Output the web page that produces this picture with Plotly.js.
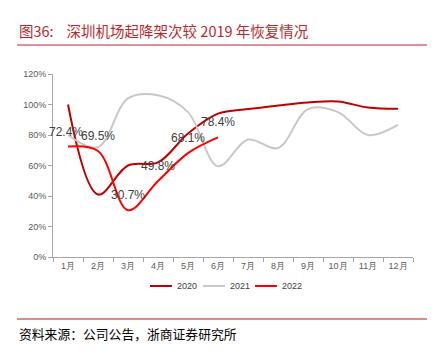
<!DOCTYPE html>
<html><head><meta charset="utf-8">
<script src="https://cdn.plot.ly/plotly-3.0.1.min.js"></script>
<style>html,body{margin:0;padding:0;background:#fff}#c{width:442px;height:355px}</style>
</head><body><div id="c"></div>
<script>
const months = ['1月','2月','3月','4月','5月','6月','7月','8月','9月','10月','11月','12月'];
const y2020 = [1.00, 0.41, 0.60, 0.62, 0.81, 0.94, 0.97, 0.993, 1.013, 1.02, 0.98, 0.972];
const y2021 = [0.80, 0.72, 1.04, 1.06, 0.95, 0.595, 0.77, 0.715, 0.97, 0.95, 0.80, 0.866];
const y2022 = [0.724, 0.695, 0.307, 0.498, 0.681, 0.784];
const labels2022 = ['72.4%','69.5%','30.7%','49.8%','68.1%','78.4%'];
const seriesNames = ['2020','2021','2022'];
const seriesColors = ['#c00000','#c8c8c8','#ff0000'];

const L=53, R=29, T=74, B=98, W=442, H=355;
const pw=W-L-R, ph=H-T-B;
const px = x => (x-L)/pw;
const py = y => (H-B-y)/ph;
const red = '#c0272d';
const FONT = 'Noto Sans CJK SC, Liberation Sans, Arial, sans-serif';

const series = [y2020, y2021, y2022];
const traces = series.map((ys, k) => ({
  x: months.slice(0, ys.length), y: ys, name: seriesNames[k], type:'scatter', mode:'lines',
  line:{color: seriesColors[k], width:2, shape:'spline', smoothing:1}, showlegend:false
}));

const dataLabels = y2022.map((v, i) => ({
  xref:'x', yref:'y', x: months[i], y: v, text: labels2022[i], showarrow:false,
  xanchor:'center', yanchor:'middle', yshift:15, xshift: i===0 ? -2 : 0,
  font:{family:'Liberation Sans, Arial, sans-serif', size:12, color:'#404040'}
}));

// manual legend
const legX = [150, 203, 255];
const legendShapes = seriesNames.map((n, k) => ({
  type:'line', xref:'paper', yref:'paper', x0:px(legX[k]), x1:px(legX[k]+22), y0:py(286), y1:py(286),
  line:{color: seriesColors[k], width:2}
}));
const legendTexts = seriesNames.map((n, k) => ({
  xref:'paper', yref:'paper', x:px(legX[k]+25), y:py(286), xanchor:'left', yanchor:'middle',
  showarrow:false, text:n, font:{family:'Liberation Sans, Arial, sans-serif', size:9, color:'#404040'}
}));

const layout = {
  width: W, height: H,
  margin:{l:L, r:R, t:T, b:B, pad:0},
  paper_bgcolor:'#fff', plot_bgcolor:'#fff',
  font:{family:'Liberation Sans, Arial, sans-serif', size:9, color:'#595959'},
  showlegend:false,
  xaxis:{type:'category', range:[-0.5, 11.5], showline:true, linecolor:'#a6a6a6', linewidth:1,
         ticks:'outside', ticklen:4, tickcolor:'#a6a6a6', tickson:'boundaries', showgrid:false,
         zeroline:false, tickfont:{size:9, color:'#595959'}, fixedrange:true},
  yaxis:{range:[0, 1.2], dtick:0.2, tickformat:'.0%', showline:true, linecolor:'#a6a6a6', linewidth:1,
         ticks:'outside', ticklen:4, tickcolor:'#a6a6a6', showgrid:false, zeroline:false,
         tickfont:{size:9, color:'#595959'}, fixedrange:true},
  shapes:[
    {type:'line', xref:'paper', yref:'paper', x0:px(17), x1:px(427), y0:py(45), y1:py(45),
     line:{color:red, width:1}},
    {type:'line', xref:'paper', yref:'paper', x0:px(17), x1:px(427), y0:py(319), y1:py(319),
     line:{color:'#e08a8a', width:2}}
  ].concat(legendShapes),
  annotations:[
    {xref:'paper', yref:'paper', x:px(17), y:py(31), xanchor:'left', yanchor:'middle', showarrow:false,
     text:'图36:\u00a0\u00a0\u00a0\u00a0深圳机场起降架次较 2019 年恢复情况', font:{family:FONT, size:14.5, color:red}},
    {xref:'paper', yref:'paper', x:px(17), y:py(333), xanchor:'left', yanchor:'middle', showarrow:false,
     text:'资料来源：公司公告，浙商证券研究所', font:{family:FONT, size:12.8, color:'#000'}}
  ].concat(dataLabels, legendTexts)
};
Plotly.newPlot('c', traces, layout, {staticPlot:true, displayModeBar:false});
</script></body></html>
